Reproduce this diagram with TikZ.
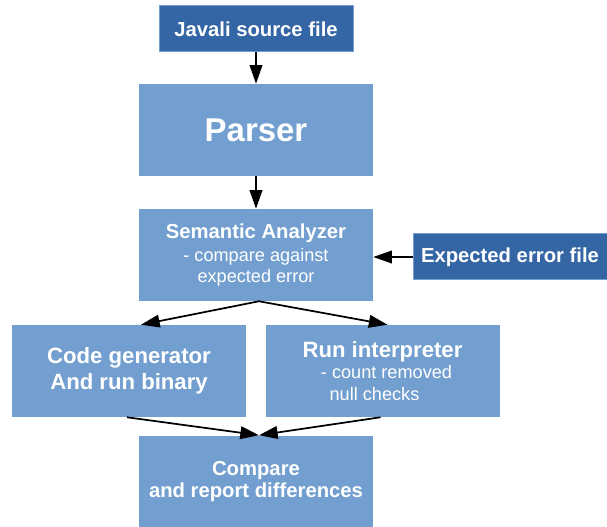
\documentclass[tikz,border=0pt]{standalone}
\usepackage{fontspec}
\setmainfont{Liberation Sans}
\usetikzlibrary{arrows.meta,calc}
\definecolor{darkbox}{HTML}{3465A4}
\definecolor{lightbox}{HTML}{729FCF}
\tikzset{
  darkstep/.style={rectangle, fill=darkbox, draw=lightbox, line width=0.75pt, text=white, align=center, inner sep=0pt},
  lightstep/.style={rectangle, fill=lightbox, text=white, align=center, inner sep=0pt},
  flow/.style={line width=1.3pt, -{Triangle[length=14pt,width=9.5pt]}},
}
\begin{document}
\begin{tikzpicture}[x=0.75pt,y=-0.75pt]
\useasboundingbox (0,0) rectangle (607,527);
\node[darkstep, minimum width=145.5pt, minimum height=34.5pt, font=\bfseries\fontsize{15.2}{17}\selectfont] (src) at (256,29) {Javali source file};
\node[lightstep, minimum width=175.5pt, minimum height=69pt, font=\bfseries\fontsize{24.7}{28}\selectfont] (parser) at (256,130) {Parser};
\node[lightstep, minimum width=175.5pt, minimum height=69pt, font=\fontsize{13.6}{15.8}\selectfont] (sem) at (256,255)
  {{\bfseries\fontsize{15.2}{15.8}\selectfont Semantic Analyzer}\\[1.2pt]- compare against\\expected error};
\node[darkstep, minimum width=145.5pt, minimum height=34.5pt, font=\bfseries\fontsize{15.2}{17}\selectfont] (exp) at (510,257) {\raisebox{-1pt}{Expected error file}};
\node[lightstep, minimum width=175.5pt, minimum height=69pt, font=\bfseries\fontsize{16.6}{19.4}\selectfont] (code) at (129,371)
  {\raisebox{-2pt}{Code generator}\\\raisebox{-2pt}{And run binary}};
\node[lightstep, minimum width=175.5pt, minimum height=69pt, font=\fontsize{13.6}{16.1}\selectfont] (run) at (382.5,371)
  {{\bfseries\fontsize{16.6}{16.1}\selectfont Run interpreter}\\\hspace*{6pt}- count removed\\null checks\hspace*{12pt}};
\node[lightstep, minimum width=175.5pt, minimum height=69pt, font=\bfseries\fontsize{15.2}{17}\selectfont] (cmp) at (256,481.5)
  {\raisebox{-3pt}{Compare}\\\raisebox{-3pt}{and report differences}};
\coordinate (semout) at ($(sem.south)+(3,0)$);
\coordinate (cmpin) at ($(cmp.north)+(3,0)$);
\draw[flow] (src) -- (parser);
\draw[flow] (parser) -- (sem);
\draw[flow] (exp) -- (sem.east |- exp.west);
\draw[flow] (semout) -- ($(code.north)+(12,0)$);
\draw[flow] (semout) -- ($(run.north)+(5,0)$);
\draw[flow] ($(code.south)+(-2,0)$) -- (cmpin);
\draw[flow] ($(run.south)+(-2,0)$) -- (cmpin);
\end{tikzpicture}
\end{document}
